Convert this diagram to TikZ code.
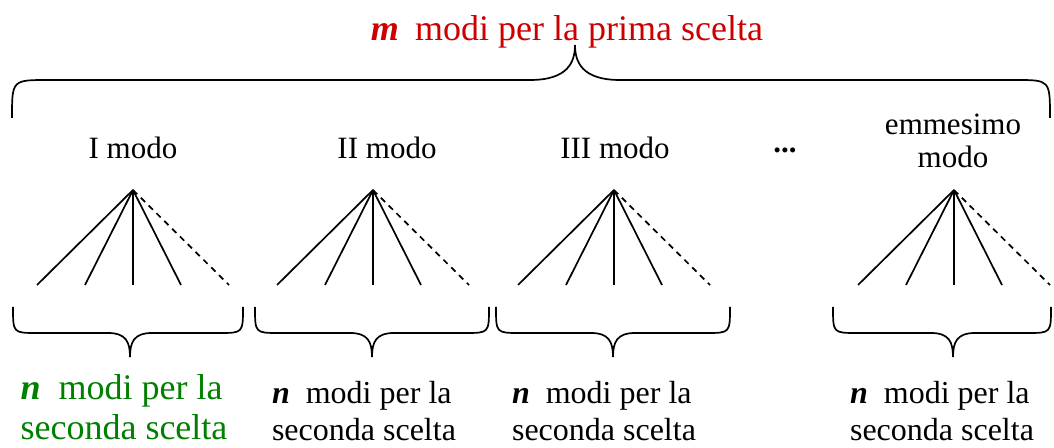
\documentclass[tikz,border=0pt]{standalone}
\usepackage{fontspec}
\setmainfont{Liberation Serif}
\usepackage{xcolor}
\usepackage{tikz}

\definecolor{rosso}{RGB}{204,0,0}
\definecolor{verde}{RGB}{0,128,0}

\begin{document}
\begin{tikzpicture}[x=0.5pt, y=-0.5pt, line width=0.85pt,
                    level distance=47.5pt,
                    level 1/.style={sibling distance=24pt},
                    every node/.style={font=\rmfamily\fontsize{15.5}{16.5}\selectfont}]
  \useasboundingbox (0,0) rectangle (1054,448);

  % title and big brace
  \node[text=rosso, font=\rmfamily\fontsize{18}{20}\selectfont] (titolo) at (567,32)
    {\textbf{\textit{m}}\hspace{0.45em}modi per la prima scelta};
  \draw (12,118) .. controls (12,80) and (12,80) .. (48,80) -- (530,80)
    .. controls (568,80) and (575,62) .. (575,45)
    .. controls (575,62) and (582,80) .. (620,80) -- (1016,80)
    .. controls (1050,80) and (1050,80) .. (1050,118);

  % the ways of the first choice
  \node (modoI) at (133,148) {I modo};
  \node (modoII) at (387,148) {II modo};
  \node (modoIII) at (615,148) {III modo};
  \node (puntini) at (785,150) {\textbf{...}};
  \node[align=center] (modoM) at (953,141) {emmesimo\\modo};

  % fans of the second choice
  \foreach \x/\n in {133/1, 373/2, 614/3, 954/4}
    \coordinate (a\n) at (\x,190)
      child {coordinate}
      child {coordinate}
      child {coordinate}
      child {coordinate}
      child[dash pattern=on 3pt off 2.5pt] {coordinate};

  % small braces
  \foreach \a/\c/\b in {13/130/243, 255/372/489, 496/613/730, 833/953/1051}
    \draw (\a,307) .. controls (\a,333) and (\a,333) .. (\a+24,333) -- (\c-22,333)
      .. controls (\c-4,333) and (\c,342) .. (\c,357)
      .. controls (\c,342) and (\c+4,333) .. (\c+22,333) -- (\b-24,333)
      .. controls (\b,333) and (\b,333) .. (\b,307);

  % second choice labels
  \node[text=verde, align=left, font=\rmfamily\fontsize{18}{20}\selectfont] (scelta1) at (124,407)
    {\textbf{\textit{n}}\hspace{0.5em}modi per la\\seconda scelta};
  \node[align=left, font=\rmfamily\fontsize{16}{18.5}\selectfont] (scelta2) at (364,411)
    {\textbf{\textit{n}}\hspace{0.5em}modi per la\\seconda scelta};
  \node[align=left, font=\rmfamily\fontsize{16}{18.5}\selectfont] (scelta3) at (604,411)
    {\textbf{\textit{n}}\hspace{0.5em}modi per la\\seconda scelta};
  \node[align=left, font=\rmfamily\fontsize{16}{18.5}\selectfont] (scelta4) at (942,411)
    {\textbf{\textit{n}}\hspace{0.5em}modi per la\\seconda scelta};
\end{tikzpicture}
\end{document}
